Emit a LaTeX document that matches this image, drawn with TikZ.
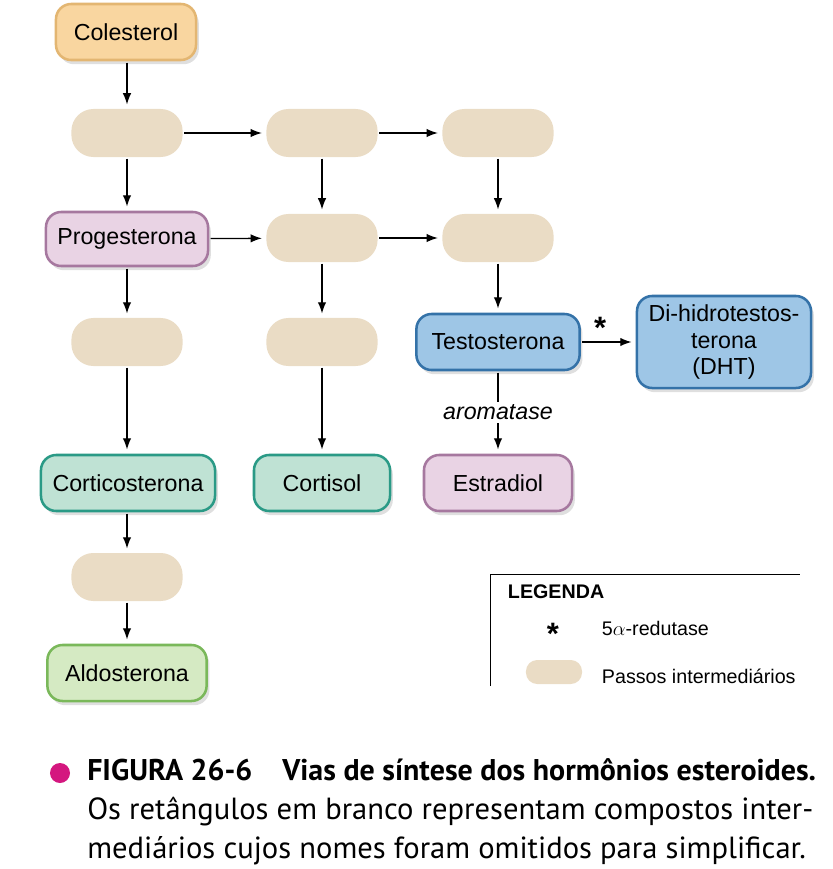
\documentclass[tikz,border=0pt]{standalone}
\usepackage{fontspec}
\setmainfont{Liberation Sans}
\newfontfamily\captionfont{PT Sans}
\usetikzlibrary{shadows,arrows.meta}

\definecolor{colfill}{HTML}{F9D6A0}
\definecolor{coldraw}{HTML}{E3B672}
\definecolor{passofill}{HTML}{EADCC5}
\definecolor{rosafill}{HTML}{E9D3E4}
\definecolor{rosadraw}{HTML}{A6789F}
\definecolor{azulfill}{HTML}{9EC6E6}
\definecolor{azuldraw}{HTML}{3472A8}
\definecolor{verdefill}{HTML}{BFE2D4}
\definecolor{verdedraw}{HTML}{2A9A86}
\definecolor{limafill}{HTML}{D5EAC3}
\definecolor{limadraw}{HTML}{7AB85A}
\definecolor{pontocor}{HTML}{D4177F}

\begin{document}
\begin{tikzpicture}[
        x=0.025cm, y=-0.025cm,
        >={Latex[length=8pt,width=6pt]},
        hormone/.style={draw, line width=1.8pt, rounded corners=0.38cm, minimum height=1.4cm,
            align=center, font=\fontsize{16.5}{19}\selectfont,
            drop shadow={shadow xshift=2pt, shadow yshift=-3pt, opacity=0.25}},
        passo/.style={fill=passofill, rounded corners=0.55cm, minimum width=2.78cm, minimum height=1.2cm},
        seta/.style={->, line width=0.9pt, shorten >=3pt, shorten <=1pt},
    ]
        \useasboundingbox (0,0) rectangle (833,869);

        % Hormones
        \node[hormone, fill=colfill, draw=coldraw, minimum width=3.5cm] (colesterol) at (126,32) {Colesterol};
        \node[hormone, fill=rosafill, draw=rosadraw, minimum width=4.05cm, minimum height=1.35cm] (progesterona) at (127,239) {Progesterona};
        \node[hormone, fill=azulfill, draw=azuldraw, minimum width=4.08cm] (testosterona) at (498,342) {Testosterona};
        \node[hormone, fill=azulfill, draw=azuldraw, minimum width=4.35cm, minimum height=2.3cm] (dht) at (724,342) {Di-hidrotestos-\\terona\\(DHT)};
        \node[hormone, fill=verdefill, draw=verdedraw, minimum width=4.35cm] (corticosterona) at (128,483) {Corticosterona};
        \node[hormone, fill=verdefill, draw=verdedraw, minimum width=3.4cm] (cortisol) at (322,483) {Cortisol};
        \node[hormone, fill=rosafill, draw=rosadraw, minimum width=3.7cm] (estradiol) at (498,483) {Estradiol};
        \node[hormone, fill=limafill, draw=limadraw, minimum width=3.98cm] (aldosterona) at (127,673) {Aldosterona};

        % Intermediate steps
        \node[passo] (p11) at (127,133) {};
        \node[passo] (p12) at (322,133) {};
        \node[passo] (p13) at (498,133) {};
        \node[passo] (p22) at (322,238) {};
        \node[passo] (p23) at (498,238) {};
        \node[passo] (p31) at (127,342) {};
        \node[passo] (p32) at (322,342) {};
        \node[passo] (p41) at (127,577) {};

        % Pathways
        \draw[seta] (colesterol.south -| p11) -- (p11);
        \draw[seta] (p11) -- (p12);
        \draw[seta] (p12) -- (p13);
        \draw[seta] (p11) -- (p11 |- progesterona.north);
        \draw[seta] (p12) -- (p22);
        \draw[seta] (p13) -- (p23);
        \draw[seta] (progesterona) -- (p22);
        \draw[seta] (p22) -- (p23);
        \draw[seta] (progesterona.south -| p31) -- (p31);
        \draw[seta] (p22) -- (p32);
        \draw[seta] (p23) -- (testosterona);
        \draw[seta] (p31) -- (p31 |- corticosterona.north);
        \draw[seta] (p32) -- (p32 |- cortisol.north);
        \draw[seta] (corticosterona.south -| p41) -- (p41);
        \draw[seta] (p41) -- (p41 |- aldosterona.north);
        \draw[seta] (testosterona) --
            node[pos=0.35, above=-1pt, font=\fontsize{22}{22}\selectfont\bfseries] {*}
            (dht);
        \draw[seta] (testosterona) --
            node[fill=white, inner sep=2pt, font=\fontsize{16.5}{19}\selectfont\itshape] {aromatase}
            (estradiol);

        % Legend
        \draw[line width=0.6pt] (490,686) -- (490,574) -- (800,574);
        \node[anchor=west, font=\fontsize{14}{16}\selectfont\bfseries] (titulo) at (503,592) {LEGENDA};
        \node[font=\fontsize{22}{22}\selectfont\bfseries] (asterisco) at (553,634) {*};
        \node[anchor=west, font=\fontsize{14}{16}\selectfont] (redutase) at (597,628) {5$\alpha$-redutase};
        \node[passo, minimum width=1.4cm, minimum height=0.6cm, rounded corners=0.28cm] (amostra) at (554,672) {};
        \node[anchor=west, font=\fontsize{14}{16}\selectfont] (passos) at (597,676) {Passos intermediários};

        % Caption
        \node[circle, fill=pontocor, minimum size=0.5cm, inner sep=0pt] (ponto) at (60,773) {};
        \node[anchor=north west, align=left, inner sep=0pt, font=\captionfont\fontsize{21.75}{28}\selectfont] (legenda) at (87,758)
            {{\fontsize{21.3}{28}\selectfont\bfseries FIGURA 26-6\quad Vias de síntese dos hormônios esteroides.}\\
            Os retângulos em branco representam compostos inter-\\
            mediários cujos nomes foram omitidos para simplificar.};
    \end{tikzpicture}
\end{document}
